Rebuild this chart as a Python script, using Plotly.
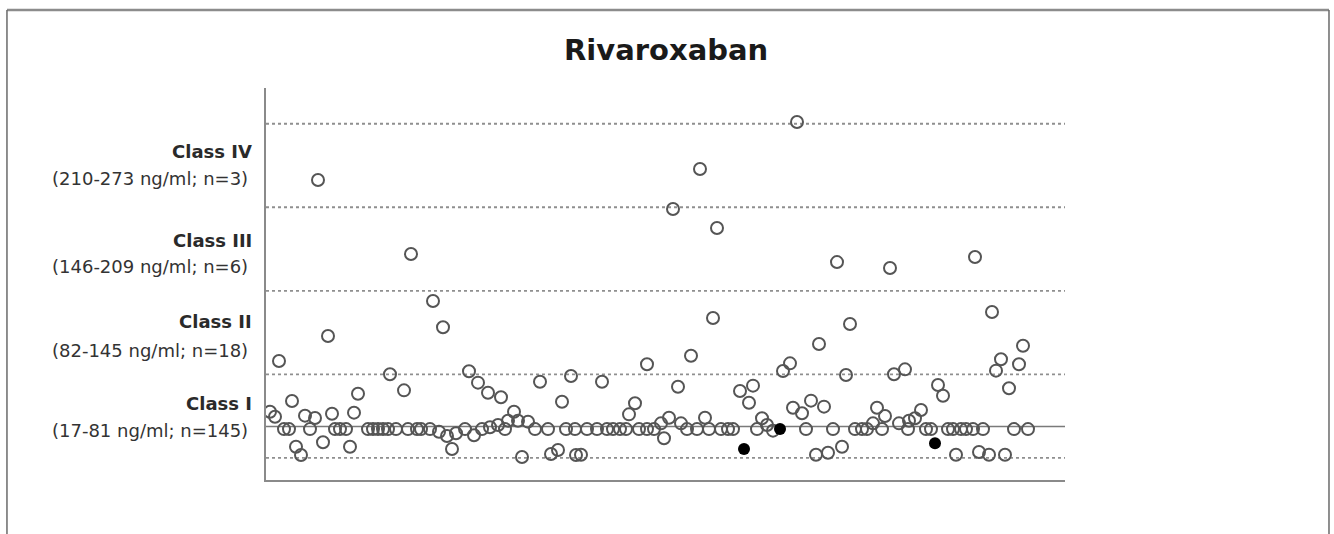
import plotly.graph_objects as go

# ---- data (position along x, concentration ng/ml) ----
open_x = [
    62, 13, 124, 138, 26, 92, 4, 9, 39, 49, 66, 88,
    18, 23, 44, 69, 74, 80, 102, 107, 112, 117, 122, 130, 142, 151,
    30, 35, 57, 84,
    177, 203, 212, 222, 235, 274, 305, 296, 248, 242, 252, 262, 232, 224,
    155, 164, 173, 181, 190, 199, 208, 216, 239, 269, 282, 300, 309,
    186, 256, 285, 292, 310,
    336, 381, 425, 412, 369, 363, 403, 395, 415, 439, 398, 315,
    321, 331, 341, 347, 354, 360, 373, 381, 388, 421, 431, 443, 455, 462,
    553, 524, 517, 580, 474, 487, 483, 527, 536, 545, 558, 611, 619, 496, 501, 507, 607,
    467, 491, 540, 567, 589, 596, 601, 616,
    550, 562, 576,
    757, 735, 753, 730, 628, 639, 672, 677, 743, 655, 649, 643, 633,
    642, 660, 665, 682, 687, 695, 700, 707, 717, 748, 762,
    690, 713, 723, 739,
    52, 434, 531, 407, 451, 145, 571, 624, 709, 167, 447, 726, 584,
]
open_y = [
    110.3, 91.2, 81.0, 68.7, 60.5, 66.1, 52.3, 48.5, 49.3, 47.5, 50.8, 51.6,
    39, 39, 39, 39, 39, 39, 39, 39, 39, 39, 39, 39, 39, 39,
    25.5, 19.2, 28.9, 25.5,
    117.0, 83.3, 74.6, 66.9, 63.4, 75.3, 79.7, 60.0, 52.3, 45.4, 45.4, 44.7, 42.1, 40.4,
    39, 39, 37.0, 33.7, 35.8, 39, 34.3, 39, 39, 39, 39, 39, 39,
    23.8, 17.6, 19.9, 23.0, 19.2,
    75.3, 88.7, 95.2, 71.5, 58.8, 50.3, 47.7, 43.4, 43.4, 47.7, 32.0, 19.4,
    39, 39, 39, 39, 39, 39, 39, 39, 39, 39, 39, 39, 39, 39,
    104.2, 89.4, 83.5, 80.5, 68.2, 72.3, 59.2, 55.4, 51.1, 60.8, 56.2, 55.4, 49.0, 47.3, 42.1, 37.8, 43.4,
    39, 39, 39, 39, 39, 39, 39, 39,
    19.4, 20.9, 25.5,
    102.9, 92.5, 88.7, 83.8, 81.0, 84.8, 72.8, 64.6, 70.3, 53.6, 47.3, 45.4, 43.4,
    39, 39, 39, 39, 39, 39, 39, 39, 39, 39, 39,
    19.4, 21.5, 19.4, 19.4,
    229.9, 238.3, 274.3, 207.7, 193.1, 173.2, 167.0, 162.5, 170.9, 137.2, 124.1, 128.7, 119.5,
]
filled_x = [514, 478, 669]
filled_y = [39.1, 23.8, 28.1]

class_bounds = [17, 81, 145, 209, 273]
median_line = 41
class_titles = ["Class IV", "Class III", "Class II", "Class I"]
class_ranges = ["(210-273 ng/ml; n=3)", "(146-209 ng/ml; n=6)",
                "(82-145 ng/ml; n=18)", "(17-81 ng/ml; n=145)"]
class_title_y = [251.6, 183.9, 121.3, 58.8]
class_range_y = [231.2, 163.4, 99.6, 38.3]
median_text = "Median = 39 ng/ml"
title_text = "Rivaroxaban"

fig = go.Figure()
fig.add_trace(go.Scatter(
    x=open_x, y=open_y, mode="markers",
    marker=dict(symbol="circle-open", size=12, color="#555555", line=dict(width=2)),
    showlegend=False, hoverinfo="skip"))
fig.add_trace(go.Scatter(
    x=filled_x, y=filled_y, mode="markers",
    marker=dict(symbol="circle", size=12, color="#000000"),
    showlegend=False, hoverinfo="skip"))

shapes = []
for b in class_bounds:
    shapes.append(dict(type="line", xref="paper", yref="y", x0=0, x1=1, y0=b, y1=b,
                       line=dict(color="#8f8f8f", width=1.8, dash="dot"), layer="below"))
shapes.append(dict(type="line", xref="paper", yref="y", x0=0, x1=1,
                   y0=median_line, y1=median_line,
                   line=dict(color="#7a7a7a", width=1.6), layer="below"))
# outer frame of the figure panel
shapes.append(dict(type="line", xref="paper", yref="paper", x0=-0.3242, x1=1.3304,
                   y0=1.199, y1=1.199, line=dict(color="#8c8c8c", width=2.5)))
shapes.append(dict(type="line", xref="paper", yref="paper", x0=-0.3242, x1=-0.3242,
                   y0=1.199, y1=-0.3, line=dict(color="#6a6a6a", width=1.5)))
shapes.append(dict(type="line", xref="paper", yref="paper", x0=1.3304, x1=1.3304,
                   y0=1.199, y1=-0.3, line=dict(color="#6a6a6a", width=1.5)))

ann = []
for t, ty in zip(class_titles, class_title_y):
    ann.append(dict(text="<b>%s</b>" % t, x=-0.015, xref="paper", y=ty, yref="y",
                    xanchor="right", yanchor="middle", showarrow=False,
                    font=dict(family="DejaVu Sans", size=18, color="#2a2a2a")))
for t, ty in zip(class_ranges, class_range_y):
    ann.append(dict(text=t, x=-0.020, xref="paper", y=ty, yref="y",
                    xanchor="right", yanchor="middle", showarrow=False,
                    font=dict(family="DejaVu Sans", size=18, color="#333333")))
ann.append(dict(text=median_text, x=817, xref="x", y=39.6, yref="y",
                xanchor="left", yanchor="middle", showarrow=False,
                font=dict(family="DejaVu Sans", size=20, color="#333333")))
ann.append(dict(text="<b>%s</b>" % title_text, x=0.5, xref="paper", y=1.097, yref="paper",
                xanchor="center", yanchor="middle", showarrow=False,
                font=dict(family="DejaVu Sans", size=29, color="#1a1a1a")))

fig.update_layout(
    width=1334, height=534,
    margin=dict(l=266, r=269, t=88, b=54),
    paper_bgcolor="white", plot_bgcolor="white",
    shapes=shapes, annotations=ann,
    xaxis=dict(range=[0, 799], showgrid=False, zeroline=False, showticklabels=False,
               ticks="", showline=True, linecolor="#8a8a8a", linewidth=2),
    yaxis=dict(range=[0, 300.4], showgrid=False, zeroline=False, showticklabels=False,
               ticks="", showline=True, linecolor="#8a8a8a", linewidth=2),
)
fig.write_html("out.html")
